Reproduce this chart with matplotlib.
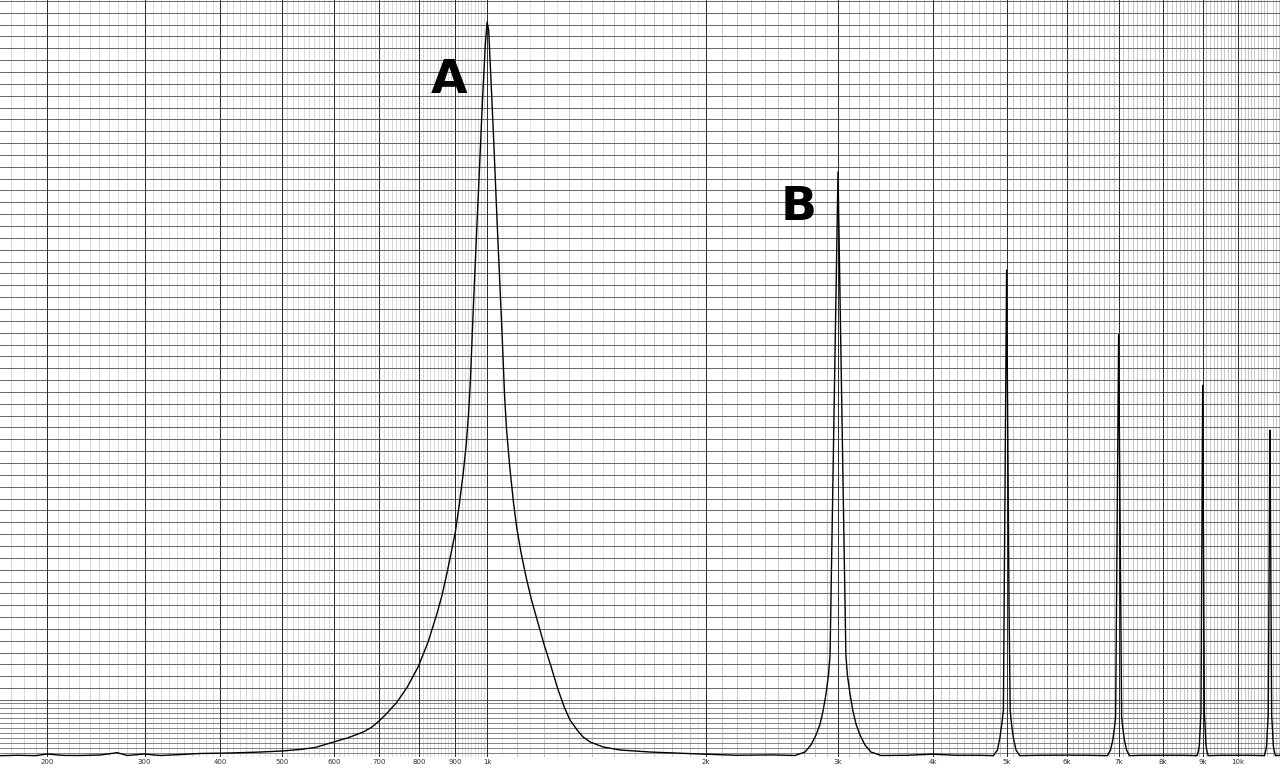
import numpy as np
import matplotlib
matplotlib.use("Agg")
import matplotlib.pyplot as plt

# ---------------- data (frequency in Hz, relative level, A peak = 100) -------------
noise_f = [161, 175, 190, 200, 215, 231, 251, 269, 280, 299, 319, 345, 371, 415, 463, 500, 533, 562]
noise_v = [0.04, 0.10, 0.05, 0.27, 0.08, 0.07, 0.14, 0.45, 0.07, 0.27, 0.07, 0.20, 0.34, 0.41, 0.54, 0.68, 0.89, 1.16]

peak_a_f = [592, 613, 628, 645, 663, 683, 702, 721, 743, 769, 797, 824, 849, 863, 877, 889,
            901, 913, 925, 934, 941, 947, 957, 971, 985, 994, 1000,
            1005, 1011, 1020, 1034, 1049, 1058, 1065, 1076, 1088, 1100, 1116, 1134, 1154,
            1175, 1202, 1229, 1254, 1281, 1305, 1335, 1360, 1391, 1449, 1529, 1680, 1963]
peak_a_v = [1.77, 2.18, 2.45, 2.86, 3.27, 3.95, 4.90, 5.99, 7.36, 9.40, 12.13, 15.53, 19.48, 21.93, 24.93, 27.66,
            30.38, 34.20, 38.56, 42.37, 46.46, 51.23, 62.13, 75.75, 89.37, 96.87, 100.0,
            98.91, 93.46, 85.29, 71.66, 58.04, 49.18, 44.41, 39.37, 34.88, 31.20, 27.66, 24.39, 21.25,
            18.53, 15.12, 12.13, 9.26, 6.68, 4.90, 3.54, 2.59, 1.91, 1.23, 0.82, 0.54, 0.27]

peak_b_f = [2630, 2712, 2762, 2805, 2840, 2866, 2892, 2914, 2928, 2945, 2963, 2982, 3000,
            3018, 3037, 3055, 3073, 3087, 3112, 3140, 3169, 3208, 3257, 3317, 3420]
peak_b_v = [0.07, 0.54, 1.50, 2.86, 4.36, 6.13, 8.45, 11.04, 13.76, 29.43, 46.05, 62.81, 79.56,
            62.81, 46.05, 29.43, 13.76, 11.04, 8.45, 6.13, 4.36, 2.86, 1.50, 0.54, 0.07]

peak_5k_f = [4804, 4864, 4902, 4932, 4952, 4964, 4981, 5000, 5019, 5036, 5054, 5071, 5101, 5143, 5203]
peak_5k_v = [0.05, 0.82, 2.59, 4.63, 6.27, 21.25, 43.05, 66.2, 43.05, 21.25, 6.27, 4.63, 2.59, 0.82, 0.05]

peak_7k_f = [6769, 6832, 6878, 6916, 6937, 6956, 6981, 7000, 7019, 7044, 7063, 7084, 7122, 7168, 7231]
peak_7k_v = [0.05, 0.82, 2.18, 4.00, 5.35, 21.25, 41.7, 57.4, 41.7, 21.25, 5.35, 4.00, 2.18, 0.82, 0.05]

peak_9k_f = [8852, 8890, 8911, 8930, 8954, 8970, 8985, 9000, 9015, 9030, 9046, 9070, 9089, 9110, 9148]
peak_9k_v = [0.05, 0.80, 1.50, 3.50, 5.86, 21.25, 36.2, 50.5, 36.2, 21.25, 5.86, 3.50, 1.50, 0.80, 0.05]

peak_11k_f = [10820, 10866, 10892, 10915, 10944, 10967, 10985, 11000, 11015, 11033, 11056, 11085,
              11108, 11134, 11180]
peak_11k_v = [0.05, 0.80, 1.50, 3.50, 5.50, 21.25, 35.0, 44.4, 35.0, 21.25, 5.50, 3.50,
              1.50, 0.80, 0.05]

floor_f = [2200, 2450, 3700, 4000, 4300, 4600, 5500, 6000, 6400, 7500, 8000, 8500,
           9500, 10000, 10400, 11330]
floor_v = [0.10, 0.15, 0.10, 0.25, 0.10, 0.10, 0.10, 0.12, 0.10, 0.10, 0.10, 0.10,
           0.10, 0.10, 0.10, 0.10]

tick_freqs = [200, 300, 400, 500, 600, 700, 800, 900, 1000,
              2000, 3000, 4000, 5000, 6000, 7000, 8000, 9000, 10000]
tick_labels = ["200", "300", "400", "500", "600", "700", "800", "900", "1k",
               "2k", "3k", "4k", "5k", "6k", "7k", "8k", "9k", "10k"]

peak_names = ["A", "B"]
peak_label_f = [883, 2659]
peak_label_v = [90.3, 73.0]

# ---------------- assemble series ----------------
f_all = np.concatenate([noise_f, peak_a_f, peak_b_f, peak_5k_f, peak_7k_f,
                        peak_9k_f, peak_11k_f, floor_f]).astype(float)
v_all = np.concatenate([noise_v, peak_a_v, peak_b_v, peak_5k_v, peak_7k_v,
                        peak_9k_v, peak_11k_v, floor_v]).astype(float)
order = np.argsort(f_all, kind="stable")
f_all, v_all = f_all[order], v_all[order]

# ---------------- figure ----------------
W, H = 1280, 768
fig = plt.figure(figsize=(W / 100, H / 100), dpi=100)
fig.patch.set_facecolor("white")
ax = fig.add_axes([0, 11 / H, 1, 757 / H])
ax.set_facecolor("white")


def fwd(f):
    return np.log10(np.asarray(f, dtype=float) + 100.0)


def inv(u):
    return 10.0 ** np.asarray(u, dtype=float) - 100.0


ax.set_xscale("function", functions=(fwd, inv))
ax.set_xlim(161, 11334)
ax.set_ylim(-0.136, 103.0)

PX = 0.72  # one pixel in points at 100 dpi

# vertical grid
for f in range(170, 1000, 10):
    if f % 100 != 0:
        ax.axvline(f, color="#d9d9d9", lw=PX, zorder=0.5)
for f in range(1050, 2000, 50):
    if f % 100 != 0:
        ax.axvline(f, color="#e6e6e6", lw=PX, zorder=0.5)
for f in range(1100, 11400, 100):
    if f % 1000 != 0:
        ax.axvline(f, color="#c8c8c8", lw=PX, zorder=0.6)

# horizontal grid
for yv in 7.63 + 1.6144 * np.arange(0, 60):
    ax.axhline(yv, color="#686868", lw=PX, zorder=0.7)
for yv in np.arange(0.41, 7.3, 0.68):
    ax.axhline(yv, color="#858585", lw=PX, zorder=0.7)

for f in tick_freqs:
    ax.axvline(f, color="#2e2e2e", lw=PX, zorder=0.8)

# curve
ax.plot(f_all, v_all, color="black", lw=1.0, zorder=3, solid_joinstyle="round")

# peak labels
for name, fx, vy in zip(peak_names, peak_label_f, peak_label_v):
    ax.text(fx, vy, name, ha="center", va="baseline", fontsize=34,
            fontweight="bold", family="DejaVu Sans", color="black", zorder=4)

ax.set_xticks(tick_freqs)
ax.set_xticklabels(tick_labels)
ax.xaxis.set_minor_locator(matplotlib.ticker.NullLocator())
ax.tick_params(axis="x", length=0, pad=1.5, labelsize=5, colors="#333333")
ax.set_yticks([])
for s in ax.spines.values():
    s.set_visible(False)

fig.savefig("out.png", dpi=100, facecolor="white")
